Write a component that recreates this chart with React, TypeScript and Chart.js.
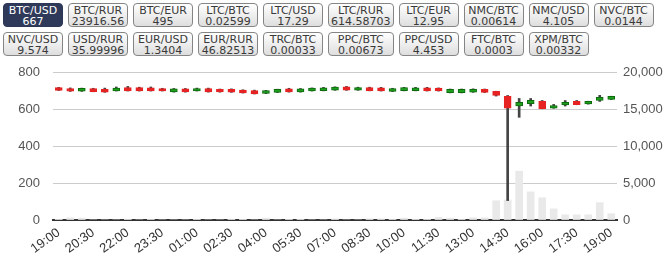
import React, { useEffect, useRef } from "react";
import { Chart, registerables } from "chart.js";

Chart.register(...registerables);

const pairs = ["BTC/USD", "BTC/RUR", "BTC/EUR", "LTC/BTC", "LTC/USD", "LTC/RUR", "LTC/EUR", "NMC/BTC", "NMC/USD", "NVC/BTC",
  "NVC/USD", "USD/RUR", "EUR/USD", "EUR/RUR", "TRC/BTC", "PPC/BTC", "PPC/USD", "FTC/BTC", "XPM/BTC"];
const pairPrices = ["667", "23916.56", "495", "0.02599", "17.29", "614.58703", "12.95", "0.00614", "4.105", "0.0144",
  "9.574", "35.99996", "1.3404", "46.82513", "0.00033", "0.00673", "4.453", "0.0003", "0.00332"];
const activePair = "BTC/USD";

const times = ["19:00", "19:30", "20:00", "20:30", "21:00", "21:30", "22:00", "22:30", "23:00", "23:30",
  "00:00", "00:30", "01:00", "01:30", "02:00", "02:30", "03:00", "03:30", "04:00", "04:30",
  "05:00", "05:30", "06:00", "06:30", "07:00", "07:30", "08:00", "08:30", "09:00", "09:30",
  "10:00", "10:30", "11:00", "11:30", "12:00", "12:30", "13:00", "13:30", "14:00", "14:30",
  "15:00", "15:30", "16:00", "16:30", "17:00", "17:30", "18:00", "18:30", "19:00"];

const opens = [716, 711, 696, 711, 707, 698, 716, 716, 715, 711,
  692, 709, 698, 711, 706, 706, 702, 699, 684, 690,
  709, 692, 698, 699, 702, 720, 702, 716, 715, 695,
  699, 699, 715, 713, 688, 688, 691, 706, 695, 668,
  616, 629, 641, 605, 622, 641, 627, 647, 652];
const closes = [701, 696, 712, 694, 691, 713, 698, 698, 698, 698,
  709, 692, 711, 692, 692, 691, 687, 682, 700, 706,
  692, 709, 713, 715, 718, 702, 716, 699, 698, 711,
  716, 715, 698, 698, 706, 706, 707, 690, 674, 605,
  636, 647, 602, 618, 636, 624, 641, 663, 668];
const highs = [717, 714, 713, 712, 713, 719, 722, 718, 719, 712,
  711, 711, 713, 713, 708, 709, 704, 702, 701, 707,
  712, 711, 714, 717, 720, 722, 718, 718, 717, 712,
  717, 717, 717, 714, 708, 708, 709, 708, 696, 673,
  657, 657, 646, 625, 646, 646, 642, 674, 669];
const lows = [700, 695, 695, 693, 690, 697, 697, 697, 697, 697,
  691, 691, 697, 691, 691, 690, 686, 681, 683, 689,
  691, 691, 697, 698, 701, 701, 701, 698, 697, 694,
  698, 698, 697, 697, 687, 687, 690, 689, 670, 105,
  555, 616, 601, 604, 616, 623, 626, 641, 651];
const volumes = [100, 300, 250, 0, 0, 0, 100, 0, 50, 0,
  0, 0, 100, 0, 0, 100, 100, 0, 250, 0,
  100, 100, 0, 0, 150, 0, 0, 150, 150, 100,
  250, 100, 100, 350, 250, 100, 300, 300, 2600, 2700,
  6600, 3800, 3000, 1500, 700, 700, 700, 2350, 850];

const priceTicks = [0, 200, 400, 600, 800];
const volumeTicks = [0, 5000, 10000, 15000, 20000];

const UP_FILL = "#1f9f1f";
const UP_BORDER = "#0b6b0b";
const DOWN_FILL = "#e62222";
const AXIS_FONT = { family: "'Liberation Sans', Arial, sans-serif", size: 13 };

function PairButton({ pair, price }: { pair: string; price: string }) {
  const active = pair === activePair;
  return (
    <div
      style={{
        boxSizing: "border-box",
        height: 24,
        minWidth: 60,
        padding: "1px 2px 0 2px",
        border: active ? "1px solid #2c3756" : "1px solid #858585",
        borderRadius: 4,
        background: active ? "#2f3a5a" : "linear-gradient(#ffffff, #dedede)",
        color: active ? "#ffffff" : "#3a3a3a",
        font: "11px 'DejaVu Sans', Verdana, sans-serif",
        lineHeight: "11px",
        textAlign: "center",
        whiteSpace: "nowrap",
      }}
    >
      <div>{pair}</div>
      <div>{price}</div>
    </div>
  );
}

export default function App() {
  const canvasRef = useRef<HTMLCanvasElement | null>(null);

  useEffect(() => {
    const canvas = canvasRef.current;
    if (!canvas) return;
    const bodyColors = opens.map((o, i) => (closes[i] >= o ? UP_FILL : DOWN_FILL));
    const bodyBorders = opens.map((o, i) => (closes[i] >= o ? UP_BORDER : DOWN_FILL));
    const chart = new Chart(canvas, {
      type: "bar",
      data: {
        labels: times,
        datasets: [
          {
            label: "body",
            data: opens.map((o, i) => [o, closes[i]]) as any,
            backgroundColor: bodyColors,
            borderColor: bodyBorders,
            borderWidth: 1,
            borderSkipped: false,
            barThickness: 7,
            grouped: false,
            yAxisID: "y",
            order: 0,
          } as any,
          {
            label: "wick",
            data: lows.map((l, i) => [l, highs[i]]) as any,
            backgroundColor: "#454545",
            borderWidth: 0,
            barThickness: 2,
            grouped: false,
            yAxisID: "y",
            order: 1,
          } as any,
          {
            label: "volume",
            data: volumes,
            backgroundColor: "#e9e9e9",
            borderWidth: 0,
            barThickness: 7,
            grouped: false,
            yAxisID: "y2",
            order: 2,
          } as any,
        ],
      },
      options: {
        responsive: false,
        animation: false,
        devicePixelRatio: 1,
        layout: { padding: { top: 12, left: 0, right: 0, bottom: 0 } },
        plugins: { legend: { display: false }, tooltip: { enabled: false } },
        scales: {
          x: {
            type: "category",
            offset: true,
            z: 1,
            grid: { display: false, drawTicks: false },
            border: { display: true, color: "#333333", width: 2 },
            ticks: {
              autoSkip: false,
              minRotation: 36,
              maxRotation: 36,
              padding: 5,
              color: "#333333",
              font: AXIS_FONT,
              callback: (_v: any, index: number) => (index % 3 === 0 ? times[index] : ""),
            },
            afterFit: (scale: any) => {
              scale.height = 35;
            },
          },
          y: {
            position: "left",
            min: priceTicks[0],
            max: priceTicks[priceTicks.length - 1],
            afterBuildTicks: (scale: any) => {
              scale.ticks = priceTicks.map((v) => ({ value: v }));
            },
            grid: { color: "#cccccc", drawTicks: true, tickLength: 13, tickColor: "rgba(0,0,0,0)" },
            border: { display: false },
            ticks: {
              padding: 0,
              color: "#555555",
              font: AXIS_FONT,
            },
            afterFit: (scale: any) => {
              scale.width = 53;
            },
          },
          y2: {
            position: "right",
            min: volumeTicks[0],
            max: volumeTicks[volumeTicks.length - 1],
            afterBuildTicks: (scale: any) => {
              scale.ticks = volumeTicks.map((v) => ({ value: v }));
            },
            grid: { display: true, drawOnChartArea: false, drawTicks: true, tickLength: 6, tickColor: "rgba(0,0,0,0)" },
            border: { display: false },
            ticks: {
              padding: 0,
              color: "#555555",
              font: AXIS_FONT,
              callback: (v: any) => Number(v).toLocaleString("en-US"),
            },
            afterFit: (scale: any) => {
              scale.width = 48;
            },
          },
        },
      },
    });
    return () => chart.destroy();
  }, []);

  return (
    <div style={{ position: "absolute", left: 0, top: 0, width: 665, height: 255, background: "#ffffff", overflow: "hidden" }}>
      <div
        style={{
          position: "absolute",
          left: 3,
          top: 3,
          display: "grid",
          gridTemplateColumns: "repeat(10, auto)",
          columnGap: 5,
          rowGap: 5,
          justifyContent: "start",
        }}
      >
        {pairs.map((p, i) => (
          <PairButton key={p} pair={p} price={pairPrices[i]} />
        ))}
      </div>
      <div style={{ position: "absolute", left: 0, top: 60, width: 665, height: 195 }}>
        <canvas ref={canvasRef} width={665} height={195} style={{ display: "block" }} />
      </div>
    </div>
  );
}
